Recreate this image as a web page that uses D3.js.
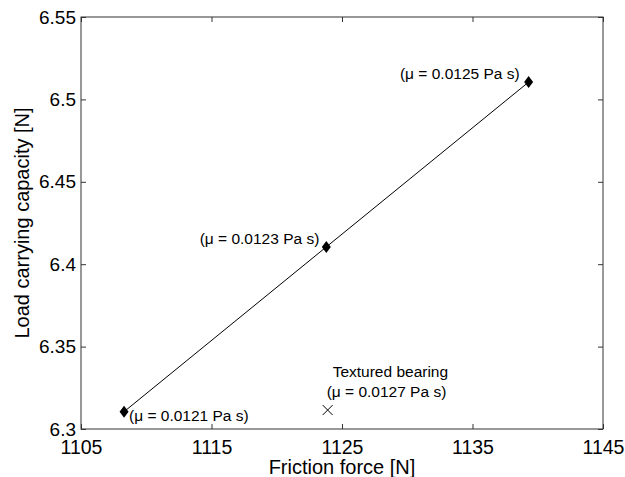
<!DOCTYPE html>
<html><head><meta charset="utf-8">
<script src="https://cdn.jsdelivr.net/npm/d3@7"></script>
<style>body{margin:0;background:#fff}svg{display:block}text{font-family:"Liberation Sans",Arial,sans-serif;fill:#000}</style>
</head><body>
<svg id="c" width="625" height="477"></svg>
<script>
const frictionForce = [1108.3, 1123.8, 1139.3];
const loadCapacity = [6.3105, 6.4105, 6.5105];
const viscosityLabels = ["(\u03bc = 0.0121 Pa s)", "(\u03bc = 0.0123 Pa s)", "(\u03bc = 0.0125 Pa s)"];
const texturedForce = [1123.9];
const texturedLoad = [6.3115];
const texturedLabels = ["Textured bearing", "(\u03bc = 0.0127 Pa s)"];
const xTicks = [1105, 1115, 1125, 1135, 1145];
const yTicks = [6.3, 6.35, 6.4, 6.45, 6.5, 6.55];

const svg = d3.select("#c");
const L = 81, R = 603, T = 17, B = 429;
const x = d3.scaleLinear().domain([1105, 1145]).range([L, R]);
const y = d3.scaleLinear().domain([6.3, 6.55]).range([B, T]);
const axCol = "#333";

svg.append("rect").attr("x", L).attr("y", T).attr("width", R - L).attr("height", B - T)
  .attr("fill", "none").attr("stroke", axCol).attr("stroke-width", 1);

const fmtY = d => String(+d.toFixed(2));
const gx = svg.append("g").attr("transform", `translate(0,${B})`)
  .call(d3.axisBottom(x).tickValues(xTicks).tickSize(-5).tickFormat(d3.format("d")));
const gxt = svg.append("g").attr("transform", `translate(0,${T})`)
  .call(d3.axisTop(x).tickValues(xTicks).tickSize(-5).tickFormat(""));
const gy = svg.append("g").attr("transform", `translate(${L},0)`)
  .call(d3.axisLeft(y).tickValues(yTicks).tickSize(-5).tickPadding(5).tickFormat(fmtY));
const gyr = svg.append("g").attr("transform", `translate(${R},0)`)
  .call(d3.axisRight(y).tickValues(yTicks).tickSize(-5).tickFormat(""));
[gx, gxt, gy, gyr].forEach(g => {
  g.select(".domain").remove();
  g.selectAll("line").attr("stroke", axCol);
  g.selectAll("text").attr("font-size", 19.5).attr("fill", "#000")
    .style("font-family", '"Liberation Sans",Arial,sans-serif');
});
gy.selectAll("text").attr("font-size", 19);
gx.selectAll("text").attr("dy", "0.71em").attr("y", 11);

svg.append("text").attr("x", (L + R) / 2).attr("y", 474).attr("text-anchor", "middle")
  .attr("font-size", 20).text("Friction force [N]");
svg.append("text").attr("transform", `translate(29,${(T + B) / 2}) rotate(-90)`)
  .attr("text-anchor", "middle").attr("font-size", 20).text("Load carrying capacity [N]");

const pts = frictionForce.map((f, i) => [f, loadCapacity[i]]);
svg.append("path").datum(pts)
  .attr("d", d3.line().x(d => x(d[0])).y(d => y(d[1])))
  .attr("fill", "none").attr("stroke", "#000").attr("stroke-width", 1);

svg.selectAll(".dm").data(pts).join("path").attr("class", "dm")
  .attr("transform", d => `translate(${x(d[0])},${y(d[1])})`)
  .attr("d", "M0,-6L4.5,0L0,6L-4.5,0Z").attr("fill", "#000");

const lab = svg.append("g").attr("font-size", 15.5);
lab.append("text").attr("x", x(frictionForce[0]) + 5).attr("y", y(loadCapacity[0]) + 9).text(viscosityLabels[0]);
lab.append("text").attr("x", x(frictionForce[1]) - 7).attr("y", y(loadCapacity[1]) - 3).attr("text-anchor", "end").text(viscosityLabels[1]);
lab.append("text").attr("x", x(frictionForce[2]) - 9).attr("y", y(loadCapacity[2]) - 3).attr("text-anchor", "end").text(viscosityLabels[2]);

const cx = x(texturedForce[0]), cy = y(texturedLoad[0]);
svg.append("path").attr("d", `M${cx-5},${cy-5}L${cx+5},${cy+5}M${cx-5},${cy+5}L${cx+5},${cy-5}`)
  .attr("stroke", "#000").attr("stroke-width", 1).attr("fill", "none");
lab.append("text").attr("x", cx + 5).attr("y", cy - 33).text(texturedLabels[0]);
lab.append("text").attr("x", cx - 1).attr("y", cy - 13).text(texturedLabels[1]);
</script>
</body></html>
